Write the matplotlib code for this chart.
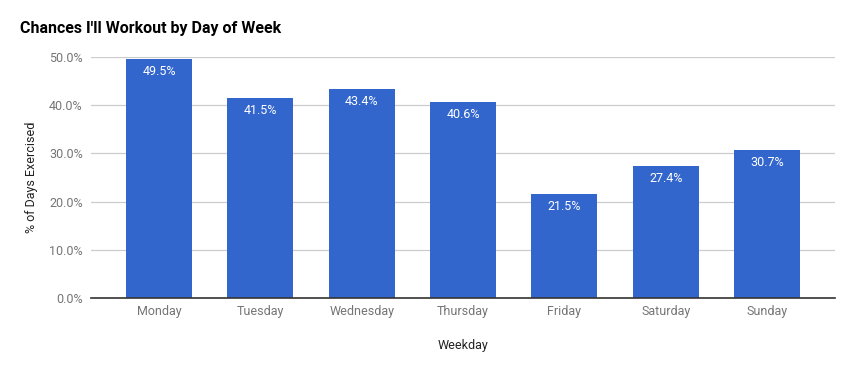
import matplotlib
matplotlib.use("Agg")
import matplotlib.pyplot as plt
from matplotlib.ticker import FuncFormatter

plt.rcParams['font.family'] = ['Roboto', 'DejaVu Sans']

days = ["Monday", "Tuesday", "Wednesday", "Thursday", "Friday", "Saturday", "Sunday"]
pct = [49.5, 41.5, 43.4, 40.6, 21.5, 27.4, 30.7]

fig = plt.figure(figsize=(8.54, 3.71), dpi=100)
ax = fig.add_axes([0.1066, 0.1968, 0.8712, 0.6496])

x = range(len(days))
bars = ax.bar(x, pct, width=0.65, color="#3366cc", zorder=3)

for xi, v in zip(x, pct):
    ax.text(xi, v - 1.2, f"{v:.1f}%", ha="center", va="top", color="white", fontsize=9, zorder=4)

ax.set_xlim(-0.67, 6.67)
ax.set_ylim(0, 50)
ax.set_yticks([0, 10, 20, 30, 40, 50])
ax.yaxis.set_major_formatter(FuncFormatter(lambda v, p: f"{v:.1f}%"))
ax.set_xticks(list(x))
ax.set_xticklabels(days)
ax.grid(axis="y", color="#cccccc", lw=0.9, zorder=0)
ax.tick_params(length=0, colors="#757575", labelsize=9)
ax.tick_params(axis="x", pad=5)
ax.tick_params(axis="y", pad=6)
for s in ["top", "right", "left"]:
    ax.spines[s].set_visible(False)
ax.spines["bottom"].set_color("#333333")
ax.spines["bottom"].set_linewidth(1.2)
ax.spines["bottom"].set_zorder(5)

ax.set_xlabel("Weekday", fontsize=9, color="#222222", labelpad=15)
ax.set_ylabel("% of Days Exercised", fontsize=9, color="#222222", labelpad=8)
fig.text(20 / 854, 1 - 28 / 371, "Chances I'll Workout by Day of Week", fontsize=11.5,
         fontweight="bold", color="black", va="center", ha="left")

fig.savefig("out.png", dpi=100)
